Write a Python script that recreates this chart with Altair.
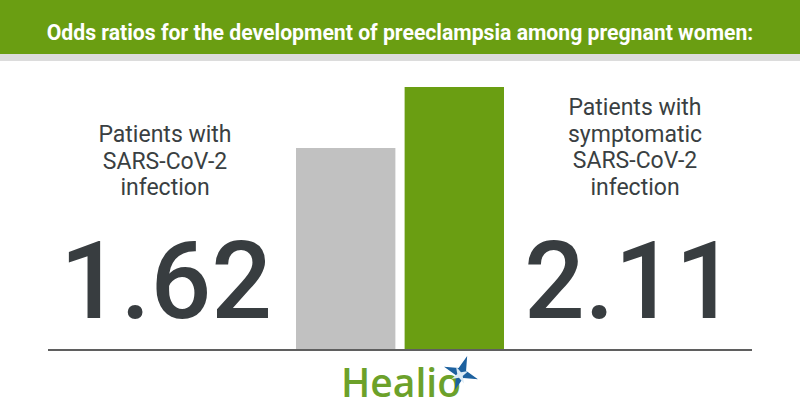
import altair as alt
import pandas as pd

# ---- data ----
categories = [
    "Patients with\nSARS-CoV-2\ninfection",
    "Patients with\nsymptomatic\nSARS-CoV-2\ninfection",
]
odds_ratios = [1.62, 2.11]
title_text = "Odds ratios for the development of preeclampsia among pregnant women:"
brand = "Healio"

GREEN = "#6a9e12"
GRAY_BAR = "#c1c1c1"
DARK = "#3a3f42"

df = pd.DataFrame({"cat": categories, "value": odds_ratios})
one = alt.Data(values=[{"k": 1}])

W, H = 800, 420

yscale = alt.Scale(domain=[-0.561, 2.807], nice=False, zero=False)

header = alt.Chart(one).mark_rect(color=GREEN).encode(
    x=alt.value(0), x2=alt.value(W), y=alt.value(0), y2=alt.value(54)
)
stripe = alt.Chart(one).mark_rect(color="#dcdcdc").encode(
    x=alt.value(0), x2=alt.value(W), y=alt.value(54), y2=alt.value(61)
)
title = alt.Chart(one).mark_text(
    text=title_text, font="Roboto", fontWeight="bold",
    fontSize=21.2, color="white", align="center", baseline="alphabetic"
).encode(x=alt.value(400), y=alt.value(39.5))

bars = alt.Chart(df).mark_bar().encode(
    x=alt.X("cat:N", sort=categories,
            scale=alt.Scale(domain=categories, range=[296, 504],
                            paddingInner=0.085, paddingOuter=0),
            axis=None),
    y=alt.Y("value:Q", scale=yscale, axis=None),
    y2=alt.Y2(datum=0),
    color=alt.Color("cat:N", scale=alt.Scale(domain=categories, range=[GRAY_BAR, GREEN]),
                    legend=None),
)

baseline = alt.Chart(one).mark_rule(color="#5f5f5f", strokeWidth=2).encode(
    x=alt.value(48), x2=alt.value(752), y=alt.Y(datum=0, type="quantitative", scale=yscale)
)

label_pos = [(165, 142), (635, 115)]
number_pos = [(166, 318), (630, 318)]

layers = [header, stripe, title, bars, baseline]
for cat, (lx, ly), (nx, ny) in zip(categories, label_pos, number_pos):
    base = alt.Chart(df).transform_filter(alt.datum.cat == cat)
    layers.append(
        base.mark_text(font="Roboto", fontSize=23, color=DARK, lineBreak="\n",
                       lineHeight=26.5, align="center", baseline="alphabetic")
        .encode(text="cat:N", x=alt.value(lx), y=alt.value(ly))
    )
    layers.append(
        base.mark_text(font="Roboto", fontWeight=500, fontSize=107, color="#383d40",
                       align="center", baseline="alphabetic")
        .encode(text=alt.Text("value:Q", format=".2f"), x=alt.value(nx), y=alt.value(ny))
    )

logo_text = alt.Chart(one).mark_text(
    text=brand, font="Open Sans", fontSize=39, fontWeight=600, color="#6ca12a",
    align="left", baseline="alphabetic"
).encode(x=alt.value(341), y=alt.value(397))

star_path = "M0,-1 L0.22,-0.22 L1,0 L0.22,0.22 L0,1 L-0.22,0.22 L-1,0 L-0.22,-0.22 Z"
star1 = alt.Chart(one).mark_point(shape=star_path, filled=True, color="#1d619f",
                                  opacity=1, size=1300, angle=20).encode(
    x=alt.value(461), y=alt.value(373))
star2 = alt.Chart(one).mark_point(shape=star_path, filled=True, color="#dbeaf5",
                                  opacity=1, size=350, angle=65).encode(
    x=alt.value(460), y=alt.value(375))

layers += [logo_text, star1, star2]

chart = alt.layer(*layers).properties(
    width=W, height=H, padding=0, autosize=alt.AutoSizeParams(type="none"),
    background="white"
).configure_view(strokeWidth=0)

chart.save("out.html", embed_options={"renderer": "svg", "actions": False})
